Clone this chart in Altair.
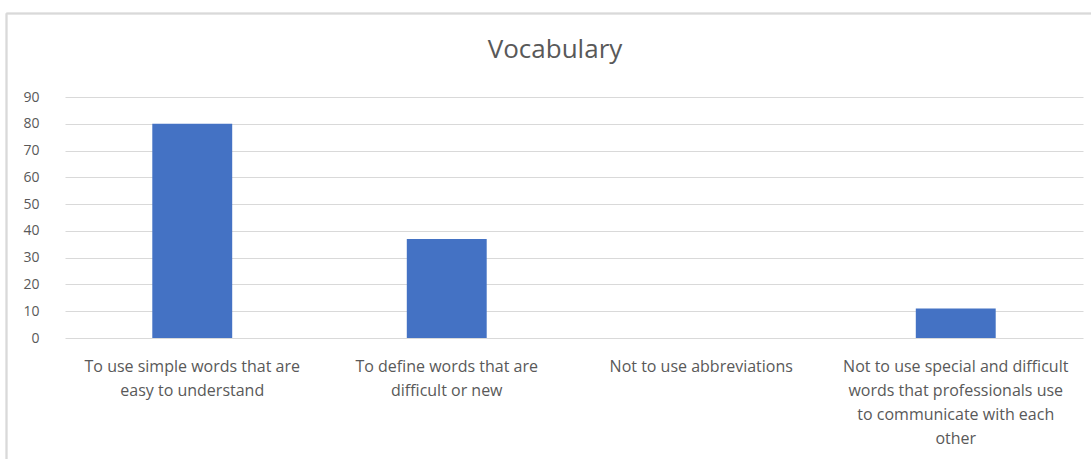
import altair as alt
import pandas as pd

# Survey responses about vocabulary guidance
categories = [
    "To use simple words that are|easy to understand",
    "To define words that are|difficult or new",
    "Not to use abbreviations",
    "Not to use special and difficult|words that professionals use|to communicate with each|other",
]
counts = [80, 37, 0, 11]
y_ticks = [0, 10, 20, 30, 40, 50, 60, 70, 80, 90]

df = pd.DataFrame({"category": categories, "count": counts})

TEXT = "#595959"
GRID = "#d9d9d9"
FONT = "Open Sans"

bars = alt.Chart(df).mark_bar(color="#4472C4").encode(
    x=alt.X(
        "category:N",
        sort=categories,
        title=None,
        scale=alt.Scale(paddingInner=0.686, paddingOuter=0.343),
        axis=alt.Axis(
            labelAngle=0,
            labelExpr="split(datum.label, '|')",
            labelFont=FONT,
            labelFontSize=16,
            labelColor=TEXT,
            labelLineHeight=24,
            labelPadding=20,
            labelLimit=400,
            ticks=False,
            domain=False,
            grid=False,
        ),
    ),
    y=alt.Y(
        "count:Q",
        title=None,
        scale=alt.Scale(domain=[0, 90], nice=False),
        axis=alt.Axis(
            values=y_ticks,
            labelFont=FONT,
            labelFontSize=14,
            labelColor=TEXT,
            labelPadding=26,
            ticks=False,
            domain=False,
            grid=True,
            gridColor=GRID,
            gridWidth=1,
        ),
    ),
)

# Light frame around the chart area (top and left edges)
frame_top = alt.Chart(df).mark_rule(color=GRID, strokeWidth=1.5, clip=False).encode(
    x=alt.value(-58.5), x2=alt.value(1100), y=alt.value(-83.5)
)
frame_left = alt.Chart(df).mark_rule(color=GRID, strokeWidth=1.5, clip=False).encode(
    x=alt.value(-58.5), y=alt.value(-83.5), y2=alt.value(400)
)

chart = (
    alt.layer(frame_top, frame_left, bars)
    .properties(
        width=1018,
        height=241,
        autosize=alt.AutoSizeParams(type="none"),
        padding={"left": 65, "top": 97, "right": 8, "bottom": 121},
        title=alt.TitleParams(
            "Vocabulary",
            font=FONT,
            fontSize=26,
            fontWeight="normal",
            color=TEXT,
            anchor="middle",
            frame="group",
            dx=-19,
            offset=-50,
        ),
        background="white",
    )
    .configure_view(stroke=None)
)

chart.save("out.html", embed_options={"renderer": "svg", "actions": False})
